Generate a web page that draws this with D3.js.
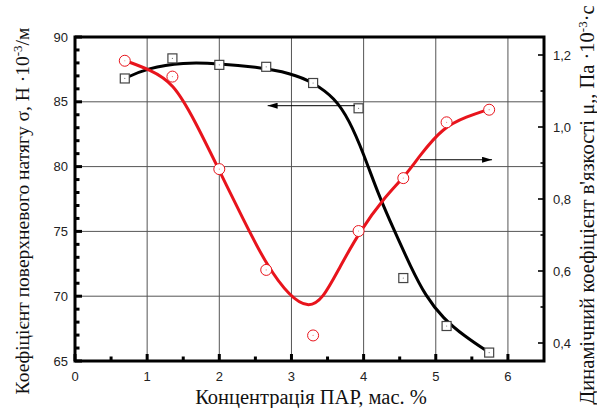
<!DOCTYPE html>
<html lang="uk">
<head>
  <meta charset="utf-8">
  <title></title>
  <script src="https://d3js.org/d3.v7.min.js"></script>
  <style>
    body { margin: 0; background: #fff; }
    .tick-label { font-family: "Liberation Sans", Arial, sans-serif; font-size: 13px; fill: #222; }
    .grid { stroke: #555; stroke-width: 1px; }
    .frame { fill: none; stroke: #000; stroke-width: 3px; }
  </style>
</head>
<body>
<script type="text/javascript">
// measured points: surface tension (left axis) and viscosity (right axis)
var conc = [0.69, 1.35, 2.0, 2.65, 3.3, 3.93, 4.55, 5.15, 5.74];
var sigma = [86.8, 88.35, 87.85, 87.7, 86.45, 84.5, 71.4, 67.7, 65.65];
var mu = [1.184, 1.14, 0.883, 0.603, 0.421, 0.711, 0.858, 1.013, 1.048];

// fitted curves as drawn on the figure
var sigmaFitX = [0.69, 1.0, 1.5, 2.0, 2.5, 3.0, 3.3, 3.6, 3.8, 4.0, 4.2, 4.43, 4.65, 4.86, 5.1, 5.4, 5.74];
var sigmaFitY = [86.8, 87.6, 88.05, 87.95, 87.7, 87.2, 86.5, 85.3, 83.6, 81.0, 77.9, 75.0, 72.3, 70.0, 68.3, 66.9, 65.65];
var muFitX = [0.70, 1.04, 1.36, 1.66, 1.99, 2.33, 2.66, 2.98, 3.23, 3.43, 3.67, 3.95, 4.29, 4.56, 4.78, 5.10, 5.43, 5.73];
var muFitY = [1.184, 1.159, 1.123, 1.018, 0.883, 0.744, 0.614, 0.528, 0.498, 0.520, 0.611, 0.711, 0.805, 0.860, 0.921, 0.999, 1.029, 1.049];

var xTicks = [0, 1, 2, 3, 4, 5, 6];
var leftTicks = [65, 70, 75, 80, 85, 90];
var rightTicks = [0.4, 0.6, 0.8, 1.0, 1.2];

var width = 597, height = 408;
var margin = {top: 37, right: 53, bottom: 47, left: 75};
var serif = "'Liberation Serif', 'DejaVu Serif', serif";

var svg = d3.select("body").append("svg")
  .attr("width", width)
  .attr("height", height);

var x = d3.scaleLinear().domain([0, 6.5]).range([margin.left, width - margin.right]);
var yL = d3.scaleLinear().domain([65, 90]).range([height - margin.bottom, margin.top]);
var yR = d3.scaleLinear().domain([0.35, 1.25]).range([height - margin.bottom, margin.top]);

var x0 = x.range()[0], x1 = x.range()[1];
var yb = yL.range()[0], yt = yL.range()[1];

// grid
svg.selectAll(".vgrid").data(xTicks.filter(function(d) { return d > 0; }))
  .enter().append("line").attr("class", "grid")
  .attr("x1", function(d) { return x(d); }).attr("x2", function(d) { return x(d); })
  .attr("y1", yt).attr("y2", yb);
svg.selectAll(".hgrid").data([70, 75, 80, 85])
  .enter().append("line").attr("class", "grid")
  .attr("y1", function(d) { return yL(d); }).attr("y2", function(d) { return yL(d); })
  .attr("x1", x0).attr("x2", x1);

// ticks (inward)
var xMinor = d3.range(0.5, 6.5, 1);
svg.selectAll(".xt").data(xTicks).enter().append("line")
  .attr("x1", function(d) { return x(d); }).attr("x2", function(d) { return x(d); })
  .attr("y1", yb).attr("y2", yb - 7).attr("stroke", "#000").attr("stroke-width", 3);
svg.selectAll(".xm").data(xMinor).enter().append("line")
  .attr("x1", function(d) { return x(d); }).attr("x2", function(d) { return x(d); })
  .attr("y1", yb).attr("y2", yb - 4.5).attr("stroke", "#000").attr("stroke-width", 3);

var lMinor = d3.range(66, 90, 1).filter(function(d) { return d % 5 != 0; });
svg.selectAll(".lt").data(leftTicks).enter().append("line")
  .attr("y1", function(d) { return yL(d); }).attr("y2", function(d) { return yL(d); })
  .attr("x1", x0).attr("x2", x0 + 7).attr("stroke", "#000").attr("stroke-width", 3);
svg.selectAll(".lm").data(lMinor).enter().append("line")
  .attr("y1", function(d) { return yL(d); }).attr("y2", function(d) { return yL(d); })
  .attr("x1", x0).attr("x2", x0 + 4.5).attr("stroke", "#000").attr("stroke-width", 3);

var rMinor = [0.5, 0.7, 0.9, 1.1];
svg.selectAll(".rt").data(rightTicks).enter().append("line")
  .attr("y1", function(d) { return yR(d); }).attr("y2", function(d) { return yR(d); })
  .attr("x1", x1).attr("x2", x1 - 6).attr("stroke", "#000").attr("stroke-width", 1.6);
svg.selectAll(".rm").data(rMinor).enter().append("line")
  .attr("y1", function(d) { return yR(d); }).attr("y2", function(d) { return yR(d); })
  .attr("x1", x1).attr("x2", x1 - 3.5).attr("stroke", "#000").attr("stroke-width", 1.6);

// tick labels
svg.selectAll(".xl").data(xTicks).enter().append("text").attr("class", "tick-label")
  .attr("x", function(d) { return x(d); }).attr("y", yb + 20)
  .attr("text-anchor", "middle").text(function(d) { return d; });
svg.selectAll(".ll").data(leftTicks).enter().append("text").attr("class", "tick-label")
  .attr("x", x0 - 7).attr("y", function(d) { return yL(d) + 4.5; })
  .attr("text-anchor", "end").text(function(d) { return d; });
svg.selectAll(".rl").data(rightTicks).enter().append("text").attr("class", "tick-label")
  .attr("x", x1 + 9).attr("y", function(d) { return yR(d) + 4.5; })
  .attr("text-anchor", "start").text(function(d) { return d3.format(".1f")(d).replace(".", ","); });

// fitted curves
var lineL = d3.line().curve(d3.curveBasis)
  .x(function(d) { return x(d[0]); }).y(function(d) { return yL(d[1]); });
var lineR = d3.line().curve(d3.curveBasis)
  .x(function(d) { return x(d[0]); }).y(function(d) { return yR(d[1]); });

svg.append("path").datum(d3.zip(sigmaFitX, sigmaFitY))
  .attr("d", lineL).attr("fill", "none").attr("stroke", "#000").attr("stroke-width", 3);
svg.append("path").datum(d3.zip(muFitX, muFitY))
  .attr("d", lineR).attr("fill", "none").attr("stroke", "#e8141c").attr("stroke-width", 3);

// markers
var sq = svg.selectAll(".sq").data(d3.zip(conc, sigma)).enter().append("g")
  .attr("transform", function(d) { return "translate(" + x(d[0]) + "," + yL(d[1]) + ")"; });
sq.append("rect").attr("x", -4.5).attr("y", -4.5).attr("width", 9).attr("height", 9)
  .attr("fill", "#fff").attr("stroke", "#444").attr("stroke-width", 1.2);
sq.append("circle").attr("r", 0.6).attr("fill", "#777");

var ci = svg.selectAll(".ci").data(d3.zip(conc, mu)).enter().append("g")
  .attr("transform", function(d) { return "translate(" + x(d[0]) + "," + yR(d[1]) + ")"; });
ci.append("circle").attr("r", 5.5).attr("fill", "#fff").attr("stroke", "#e8141c").attr("stroke-width", 1);
ci.append("circle").attr("r", 0.6).attr("fill", "#e88");

// arrows pointing to the axis each curve belongs to
var defs = svg.append("defs");
defs.append("marker").attr("id", "ah").attr("viewBox", "0 0 10 6")
  .attr("refX", 10).attr("refY", 3).attr("markerWidth", 10).attr("markerHeight", 6)
  .attr("markerUnits", "userSpaceOnUse").attr("orient", "auto")
  .append("path").attr("d", "M0,0L10,3L0,6Z").attr("fill", "#000");

svg.append("line").attr("x1", x(3.88)).attr("x2", x(2.67))
  .attr("y1", yL(84.7)).attr("y2", yL(84.7))
  .attr("stroke", "#000").attr("stroke-width", 1).attr("marker-end", "url(#ah)");
svg.append("line").attr("x1", x(4.78)).attr("x2", x(5.78))
  .attr("y1", yR(0.909)).attr("y2", yR(0.909))
  .attr("stroke", "#000").attr("stroke-width", 1).attr("marker-end", "url(#ah)");

// frame
svg.append("rect").attr("class", "frame")
  .attr("x", x0).attr("y", yt).attr("width", x1 - x0).attr("height", yb - yt);

// axis titles (serif, like the original)
svg.append("text")
  .attr("x", 311).attr("y", 404).attr("text-anchor", "middle")
  .style("font-family", serif).style("font-size", "20.5px").style("fill", "#111")
  .text("Концентрація ПАР, мас. %");

var lt = svg.append("text")
  .attr("transform", "translate(29,211) rotate(-90)").attr("text-anchor", "middle")
  .style("font-family", serif).style("font-size", "19.5px").style("fill", "#111");
lt.append("tspan").text("Коефіцієнт поверхневого натягу σ, Н ·10");
lt.append("tspan").attr("dy", -7).style("font-size", "13px").text("-3");
lt.append("tspan").attr("dy", 7).text("/м");

var rt = svg.append("text")
  .attr("transform", "translate(594,205) rotate(-90)").attr("text-anchor", "middle")
  .style("font-family", serif).style("font-size", "20.5px").style("fill", "#111");
rt.append("tspan").text("Динамічний коефіцієнт в'язкості μ,, Па ·10");
rt.append("tspan").attr("dy", -7).style("font-size", "13px").text("-3");
rt.append("tspan").attr("dy", 7).text("·с");
</script>
</body>
</html>
